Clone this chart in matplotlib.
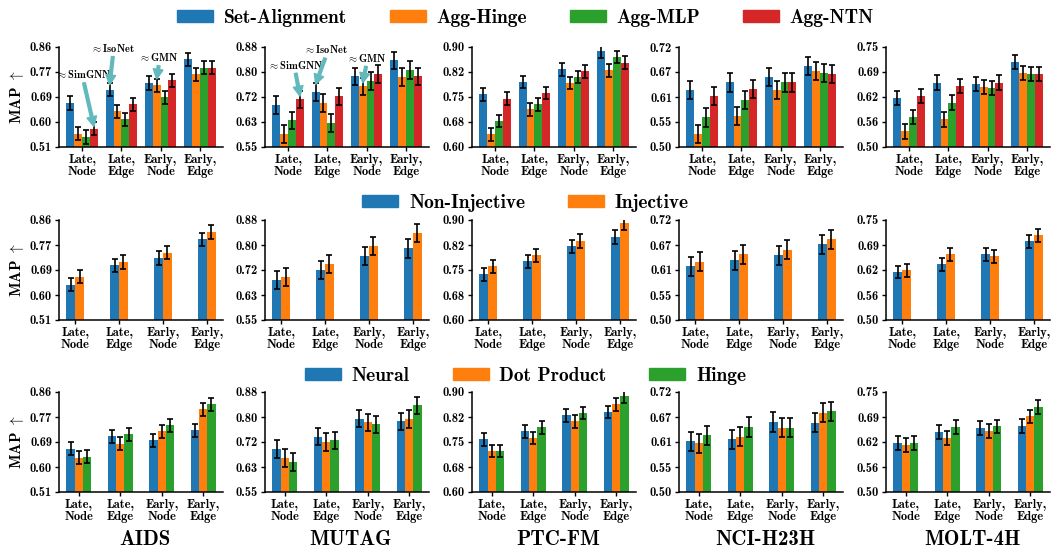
import numpy as np
import matplotlib
matplotlib.use("Agg")
import matplotlib.pyplot as plt
from matplotlib.patches import Patch

plt.rcParams['font.family'] = ['cmb10', 'DejaVu Serif']
plt.rcParams['mathtext.fontset'] = 'cm'
plt.rcParams['axes.unicode_minus'] = False

datasets = ['AIDS', 'MUTAG', 'PTC-FM', 'NCI-H23H', 'MOLT-4H']
configs = ['Late,\nNode', 'Late,\nEdge', 'Early,\nNode', 'Early,\nEdge']
ylims = [(0.51, 0.86), (0.55, 0.88), (0.60, 0.90), (0.50, 0.72), (0.50, 0.75)]
ytick_labels = [['0.51', '0.60', '0.69', '0.77', '0.86'],
                ['0.55', '0.63', '0.72', '0.80', '0.88'],
                ['0.60', '0.68', '0.75', '0.82', '0.90'],
                ['0.50', '0.55', '0.61', '0.67', '0.72'],
                ['0.50', '0.56', '0.62', '0.69', '0.75']]
colors = ['#1f77b4', '#ff7f0e', '#2ca02c', '#d62728']

# row 1 : set alignment vs aggregated
top_names = ['Set-Alignment', 'Agg-Hinge', 'Agg-MLP', 'Agg-NTN']
set_align = [[0.664, 0.711, 0.734, 0.817], [0.688, 0.732, 0.783, 0.836], [0.758, 0.795, 0.833, 0.887],
             [0.625, 0.642, 0.654, 0.679], [0.622, 0.661, 0.658, 0.712]]
agg_hinge = [[0.557, 0.635, 0.726, 0.764], [0.592, 0.695, 0.750, 0.781], [0.638, 0.713, 0.792, 0.830],
             [0.528, 0.568, 0.625, 0.668], [0.539, 0.569, 0.650, 0.685]]
agg_mlp = [[0.545, 0.607, 0.684, 0.788], [0.638, 0.629, 0.767, 0.805], [0.678, 0.728, 0.810, 0.870],
           [0.565, 0.603, 0.642, 0.663], [0.575, 0.611, 0.648, 0.683]]
agg_ntn = [[0.574, 0.659, 0.743, 0.788], [0.707, 0.717, 0.790, 0.783], [0.745, 0.762, 0.827, 0.853],
           [0.612, 0.628, 0.642, 0.661], [0.628, 0.652, 0.661, 0.683]]
top_err = [0.023, 0.029, 0.019, 0.020, 0.018]

# row 2 : injectivity
mid_names = ['Non-Injective', 'Injective']
non_inj = [[0.634, 0.701, 0.727, 0.793], [0.681, 0.714, 0.761, 0.786], [0.737, 0.776, 0.821, 0.849],
           [0.618, 0.631, 0.642, 0.667], [0.620, 0.639, 0.664, 0.697]]
inj = [[0.662, 0.713, 0.745, 0.818], [0.691, 0.734, 0.795, 0.838], [0.761, 0.794, 0.837, 0.890],
       [0.628, 0.645, 0.655, 0.678], [0.624, 0.664, 0.659, 0.712]]
mid_err = [0.023, 0.030, 0.020, 0.021, 0.016]

# row 3 : scoring
bot_names = ['Neural', 'Dot Product', 'Hinge']
neural = [[0.662, 0.705, 0.691, 0.726], [0.691, 0.733, 0.792, 0.783], [0.758, 0.782, 0.830, 0.840],
          [0.612, 0.616, 0.654, 0.652], [0.622, 0.650, 0.660, 0.665]]
dot = [[0.630, 0.679, 0.722, 0.799], [0.662, 0.715, 0.780, 0.790], [0.723, 0.762, 0.812, 0.863],
       [0.607, 0.622, 0.641, 0.674], [0.617, 0.635, 0.652, 0.689]]
hinge = [[0.634, 0.712, 0.743, 0.817], [0.649, 0.720, 0.773, 0.836], [0.723, 0.794, 0.837, 0.887],
         [0.625, 0.643, 0.641, 0.678], [0.622, 0.663, 0.664, 0.712]]
bot_err = [0.022, 0.029, 0.019, 0.021, 0.017]

rows = [(top_names, [set_align, agg_hinge, agg_mlp, agg_ntn], top_err),
        (mid_names, [non_inj, inj], mid_err),
        (bot_names, [neural, dot, hinge], bot_err)]

W, H = 1051, 548
fig = plt.figure(figsize=(W / 100, H / 100), dpi=100)
lefts = [59, 265, 472, 679, 886]
row_tops = [47, 220, 392]
aw, ah = 164, 100

x = np.arange(len(configs))
bw = 0.2
axes = []
for r, (names, series, errs) in enumerate(rows):
    rax = []
    for d in range(5):
        ax = fig.add_axes([lefts[d] / W, 1 - (row_tops[r] + ah) / H, aw / W, ah / H])
        n = len(series)
        for k in range(n):
            off = (k - (n - 1) / 2) * bw
            ax.bar(x + off, np.array(series[k][d]) - ylims[d][0], bw, bottom=ylims[d][0],
                   color=colors[k], yerr=errs[d],
                   error_kw=dict(ecolor='black', elinewidth=1.2, capsize=2.5, capthick=1.2))
        ax.set_ylim(*ylims[d])
        ax.set_yticks(np.linspace(ylims[d][0], ylims[d][1], 5))
        ax.set_yticklabels(ytick_labels[d], fontsize=9)
        ax.set_xticks(x)
        ax.set_xticklabels(configs, fontsize=9, linespacing=1.0)
        ax.spines['top'].set_visible(False)
        ax.spines['right'].set_visible(False)
        ax.spines['left'].set_linewidth(1.1)
        ax.spines['bottom'].set_linewidth(1.1)
        ax.tick_params(length=3, width=1, pad=2)
        if d == 0:
            ax.set_ylabel(r'MAP $\uparrow$', fontsize=11, labelpad=3)
        rax.append(ax)
    axes.append(rax)

# dataset names under the columns
for d in range(5):
    fig.text((lefts[d] + aw / 2 + 4) / W, 1 - 545 / H, datasets[d], ha='center', va='baseline',
             fontsize=15)

# legends
leg_y = [1 - 18 / H, 1 - 203 / H, 1 - 376 / H]
for r, (names, series, errs) in enumerate(rows):
    handles = [Patch(color=colors[k]) for k in range(len(names))]
    fig.legend(handles, names, loc='center', bbox_to_anchor=(0.5, leg_y[r]), ncol=len(names),
               frameon=False, fontsize=14, handlelength=1.85, handleheight=0.6,
               handletextpad=0.55, columnspacing=2.2, borderpad=0)

# arrows pointing at the known baselines
acol = '#62b9bb'
aprops = dict(facecolor=acol, edgecolor=acol, width=2.0, headwidth=7, headlength=7, shrink=0.0)
notes = [(0, r'$\approx$SimGNN', (0.3, 0.582), (0.03, 0.765)),
         (0, r'$\approx$IsoNet', (0.7, 0.728), (0.79, 0.857)),
         (0, r'$\approx$GMN', (1.9, 0.748), (1.96, 0.825)),
         (1, r'$\approx$SimGNN', (0.3, 0.718), (0.18, 0.822)),
         (1, r'$\approx$IsoNet', (0.7, 0.757), (0.97, 0.872)),
         (1, r'$\approx$GMN', (1.9, 0.762), (2.0, 0.845))]
for d, txt, xy, xyt in notes:
    axes[0][d].annotate(txt, xy=xy, xytext=xyt, ha='center', va='center', fontsize=7.5,
                        arrowprops=aprops, zorder=5, annotation_clip=False)

fig.savefig('out.png', dpi=100)
